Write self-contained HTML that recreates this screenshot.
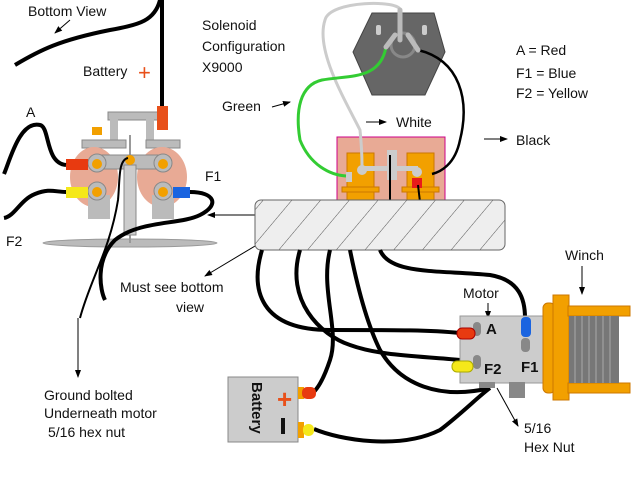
<!DOCTYPE html>
<html><head><style>body{margin:0;background:#fff}svg{display:block}text{font-family:"Liberation Sans",sans-serif;fill:#111}</style></head><body>
<svg width="640" height="480" viewBox="0 0 640 480" xmlns="http://www.w3.org/2000/svg">
<defs><pattern id="h" width="22" height="22" patternUnits="userSpaceOnUse" patternTransform="rotate(40)"><rect width="22" height="22" fill="#eee"/><line x1="0" y1="0" x2="0" y2="22" stroke="#555" stroke-width="1"/></pattern>
<marker id="a" markerWidth="8" markerHeight="8" refX="7" refY="4" orient="auto" markerUnits="userSpaceOnUse"><path d="M0,1 L8,4 L0,7 z" fill="#000"/></marker></defs>
<!-- texts -->
<text x="28" y="16" font-size="14">Bottom View</text>
<line x1="70" y1="20" x2="55" y2="33" stroke="#000" marker-end="url(#a)"/>
<text x="83" y="76" font-size="14">Battery</text>
<text x="138" y="80" font-size="22" style="fill:#e8501a">+</text>
<text x="26" y="117" font-size="14">A</text>
<text x="205" y="181" font-size="14">F1</text>
<text x="6" y="246" font-size="14">F2</text>
<text x="202" y="30" font-size="14">Solenoid</text>
<text x="202" y="51" font-size="14">Configuration</text>
<text x="202" y="72" font-size="14">X9000</text>
<text x="222" y="111" font-size="14">Green</text>
<line x1="272" y1="107" x2="290" y2="102" stroke="#000" marker-end="url(#a)"/>
<text x="396" y="127" font-size="14">White</text>
<line x1="366" y1="122" x2="386" y2="122" stroke="#000" marker-end="url(#a)"/>
<text x="516" y="55" font-size="14">A = Red</text>
<text x="516" y="78" font-size="14">F1 = Blue</text>
<text x="516" y="98" font-size="14">F2 = Yellow</text>
<text x="516" y="145" font-size="14">Black</text>
<line x1="484" y1="139" x2="507" y2="139" stroke="#000" marker-end="url(#a)"/>
<text x="120" y="292" font-size="14">Must see bottom</text>
<text x="176" y="312" font-size="14">view</text>
<line x1="255" y1="246" x2="205" y2="276" stroke="#000" marker-end="url(#a)"/>
<line x1="255" y1="215" x2="208" y2="215" stroke="#000" marker-end="url(#a)"/>
<text x="565" y="260" font-size="14">Winch</text>
<line x1="582" y1="266" x2="582" y2="294" stroke="#000" marker-end="url(#a)"/>
<text x="463" y="298" font-size="14">Motor</text>
<line x1="488" y1="303" x2="488" y2="318" stroke="#000" marker-end="url(#a)"/>
<text x="44" y="400" font-size="14">Ground bolted</text>
<text x="44" y="418" font-size="14">Underneath motor</text>
<text x="48" y="437" font-size="14">5/16 hex nut</text>
<line x1="78" y1="318" x2="78" y2="377" stroke="#000" marker-end="url(#a)"/>
<text x="524" y="433" font-size="14">5/16</text>
<text x="524" y="452" font-size="14">Hex Nut</text>
<line x1="497" y1="388" x2="518" y2="426" stroke="#000" marker-end="url(#a)"/>
<!-- left solenoid -->
<ellipse cx="130" cy="243" rx="87" ry="4" fill="#bbb" stroke="#999"/>
<line x1="130" y1="135" x2="130" y2="243" stroke="#999" stroke-width="2"/>
<rect x="108" y="112" width="50" height="8" fill="#bbb" stroke="#888"/>
<rect x="110" y="118" width="8" height="28" fill="#bbb"/><rect x="146" y="118" width="8" height="28" fill="#bbb"/>
<rect x="82" y="140" width="44" height="8" fill="#bbb" stroke="#888"/><rect x="146" y="140" width="34" height="8" fill="#bbb" stroke="#888"/>
<rect x="92" y="127" width="10" height="8" fill="#f2a000"/>
<ellipse cx="94" cy="177" rx="24" ry="30" fill="#e8aa95"/><ellipse cx="162" cy="177" rx="25" ry="30" fill="#e8aa95"/>
<rect x="100" y="155" width="65" height="14" fill="#bbb" stroke="#888"/>
<rect x="124" y="165" width="12" height="70" fill="#ccc" stroke="#888"/>
<rect x="88" y="195" width="22" height="24" fill="#bbb"/><rect x="152" y="195" width="22" height="24" fill="#bbb"/>
<g fill="#bbb" stroke="#888"><circle cx="97" cy="163" r="9"/><circle cx="97" cy="191" r="9"/><circle cx="163" cy="163" r="9"/><circle cx="163" cy="191" r="9"/></g>
<g fill="#f2a000"><circle cx="97" cy="164" r="5"/><circle cx="97" cy="192" r="5"/><circle cx="163" cy="164" r="5"/><circle cx="163" cy="192" r="5"/><circle cx="130" cy="160" r="5"/></g>
<rect x="66" y="159" width="22" height="11" fill="#e83a10"/>
<rect x="66" y="187" width="22" height="11" fill="#f5e81a"/>
<rect x="173" y="187" width="17" height="11" fill="#1a64e0"/>
<rect x="157" y="106" width="11" height="24" fill="#e8501a"/>
<g fill="none" stroke="#000" stroke-width="4">
<path d="M162,0 L162,106"/>
<path d="M15,65 C40,50 60,40 110,30 C140,25 155,20 160,0"/>
<path d="M4,174 C10,160 20,120 40,125 C50,127 45,163 66,165"/>
<path d="M4,218 C15,216 20,200 35,194 C50,188 55,192 66,192"/>
<path d="M190,192 C215,192 220,205 200,215 C180,225 140,220 115,240 C95,260 100,290 105,300"/>
</g>
<path d="M80,318 C90,280 110,250 118,200 C120,180 118,160 128,158" fill="none" stroke="#000" stroke-width="2"/>
<!-- hex -->
<polygon points="372,13 434,13 445,52 425,95 372,95 353,52" fill="#666" stroke="#444"/>
<circle cx="403" cy="45" r="12" fill="none" stroke="#888" stroke-width="3"/>
<rect x="376" y="25" width="5" height="10" rx="2" fill="#ccc"/><rect x="422" y="25" width="5" height="10" rx="2" fill="#ccc"/>
<!-- solenoid box -->
<rect x="337" y="137" width="108" height="65" fill="#e8aa95" stroke="#c08"/>
<rect x="347" y="153" width="27" height="49" fill="#f2a000" stroke="#c70"/>
<rect x="407" y="153" width="27" height="49" fill="#f2a000" stroke="#c70"/>
<rect x="342" y="187" width="37" height="5" fill="#f2a000" stroke="#c70"/><rect x="402" y="187" width="37" height="5" fill="#f2a000" stroke="#c70"/>
<rect x="360" y="166" width="58" height="5" fill="#ccc"/>
<rect x="387" y="150" width="10" height="30" fill="#ccc"/>
<circle cx="362" cy="170" r="5" fill="#ccc"/><circle cx="417" cy="172" r="5" fill="#ccc"/>
<rect x="412" y="178" width="10" height="10" fill="#e81a1a"/>
<rect x="346" y="172" width="6" height="10" fill="#ccc"/>
<!-- wires top -->
<path d="M400,10 C400,0 330,0 325,20 C315,50 345,100 360,130 C362,150 362,160 362,166" fill="none" stroke="#ccc" stroke-width="3"/>
<path d="M386,47 C380,80 350,75 322,80 C300,85 295,110 300,140 C310,165 330,175 346,176" fill="none" stroke="#3c3" stroke-width="3"/>
<path d="M418,50 C460,60 470,100 460,140 C455,165 440,172 432,174" fill="none" stroke="#000" stroke-width="2.5"/>
<path d="M400,10 L400,40 M386,47 L395,35 M418,50 L408,35" stroke="#bbb" stroke-width="5" stroke-linecap="round"/>
<path d="M390,155 L390,202" stroke="#000" stroke-width="2"/>
<path d="M418,185 L420,202" stroke="#000" stroke-width="2"/>
<!-- slab -->
<rect x="255" y="200" width="250" height="50" rx="6" fill="url(#h)" stroke="#666"/>
<!-- bottom wires -->
<g fill="none" stroke="#000" stroke-width="4">
<path d="M262,250 C250,290 260,330 330,330 C400,330 430,330 460,333"/>
<path d="M300,250 C285,300 320,335 350,345 C380,356 420,356 460,360"/>
<path d="M330,250 C320,290 340,330 330,360 C320,390 310,400 300,395"/>
<path d="M350,250 C360,300 370,330 380,350 C400,385 440,400 490,388"/>
<path d="M380,250 C390,275 440,270 490,275 C520,280 525,300 525,318"/>
<path d="M314,429 C340,440 400,450 440,430 C460,415 480,395 490,388"/>
</g>
<!-- motor -->
<rect x="460" y="316" width="86" height="67" fill="#ccc" stroke="#999"/>
<rect x="479" y="382" width="16" height="6" fill="#888"/><rect x="509" y="382" width="16" height="16" fill="#888"/>
<rect x="473" y="322" width="8" height="14" rx="4" fill="#888"/><rect x="473" y="355" width="8" height="14" rx="4" fill="#888"/>
<rect x="521" y="338" width="9" height="14" rx="4" fill="#888"/>
<text x="486" y="334" font-size="15" font-weight="bold">A</text>
<text x="484" y="374" font-size="15" font-weight="bold">F2</text>
<text x="521" y="372" font-size="15" font-weight="bold">F1</text>
<rect x="457" y="328" width="18" height="11" rx="5" fill="#e83a10" stroke="#a00"/>
<rect x="452" y="361" width="21" height="11" rx="5" fill="#f5e81a" stroke="#aa0"/>
<rect x="521" y="317" width="10" height="20" rx="4" fill="#1a64e0"/>
<!-- winch -->
<rect x="543" y="303" width="12" height="90" rx="5" fill="#f2a000" stroke="#c70"/>
<rect x="553" y="295" width="16" height="105" fill="#f2a000" stroke="#c70"/>
<rect x="568" y="306" width="62" height="10" fill="#f2a000" stroke="#c70"/>
<rect x="568" y="383" width="62" height="10" fill="#f2a000" stroke="#c70"/>
<rect x="569" y="316" width="50" height="67" fill="#777"/>
<g stroke="#aaa"><line x1="575" y1="316" x2="575" y2="383"/><line x1="582" y1="316" x2="582" y2="383"/><line x1="589" y1="316" x2="589" y2="383"/><line x1="596" y1="316" x2="596" y2="383"/><line x1="603" y1="316" x2="603" y2="383"/><line x1="610" y1="316" x2="610" y2="383"/></g>
<!-- battery -->
<rect x="228" y="377" width="70" height="65" fill="#ccc" stroke="#888"/>
<text transform="translate(252,382) rotate(90)" font-size="15" font-weight="bold">Battery</text>
<text x="277" y="408" font-size="26" font-weight="bold" style="fill:#e8501a">+</text>
<rect x="281" y="418" width="4" height="16" fill="#111"/>
<rect x="298" y="387" width="6" height="12" fill="#f2a000"/><rect x="302" y="387" width="14" height="12" rx="5" fill="#e83a10"/>
<rect x="298" y="422" width="6" height="16" fill="#f2a000"/><rect x="303" y="424" width="11" height="12" rx="5" fill="#f5e81a"/>
</svg>
</body></html>
